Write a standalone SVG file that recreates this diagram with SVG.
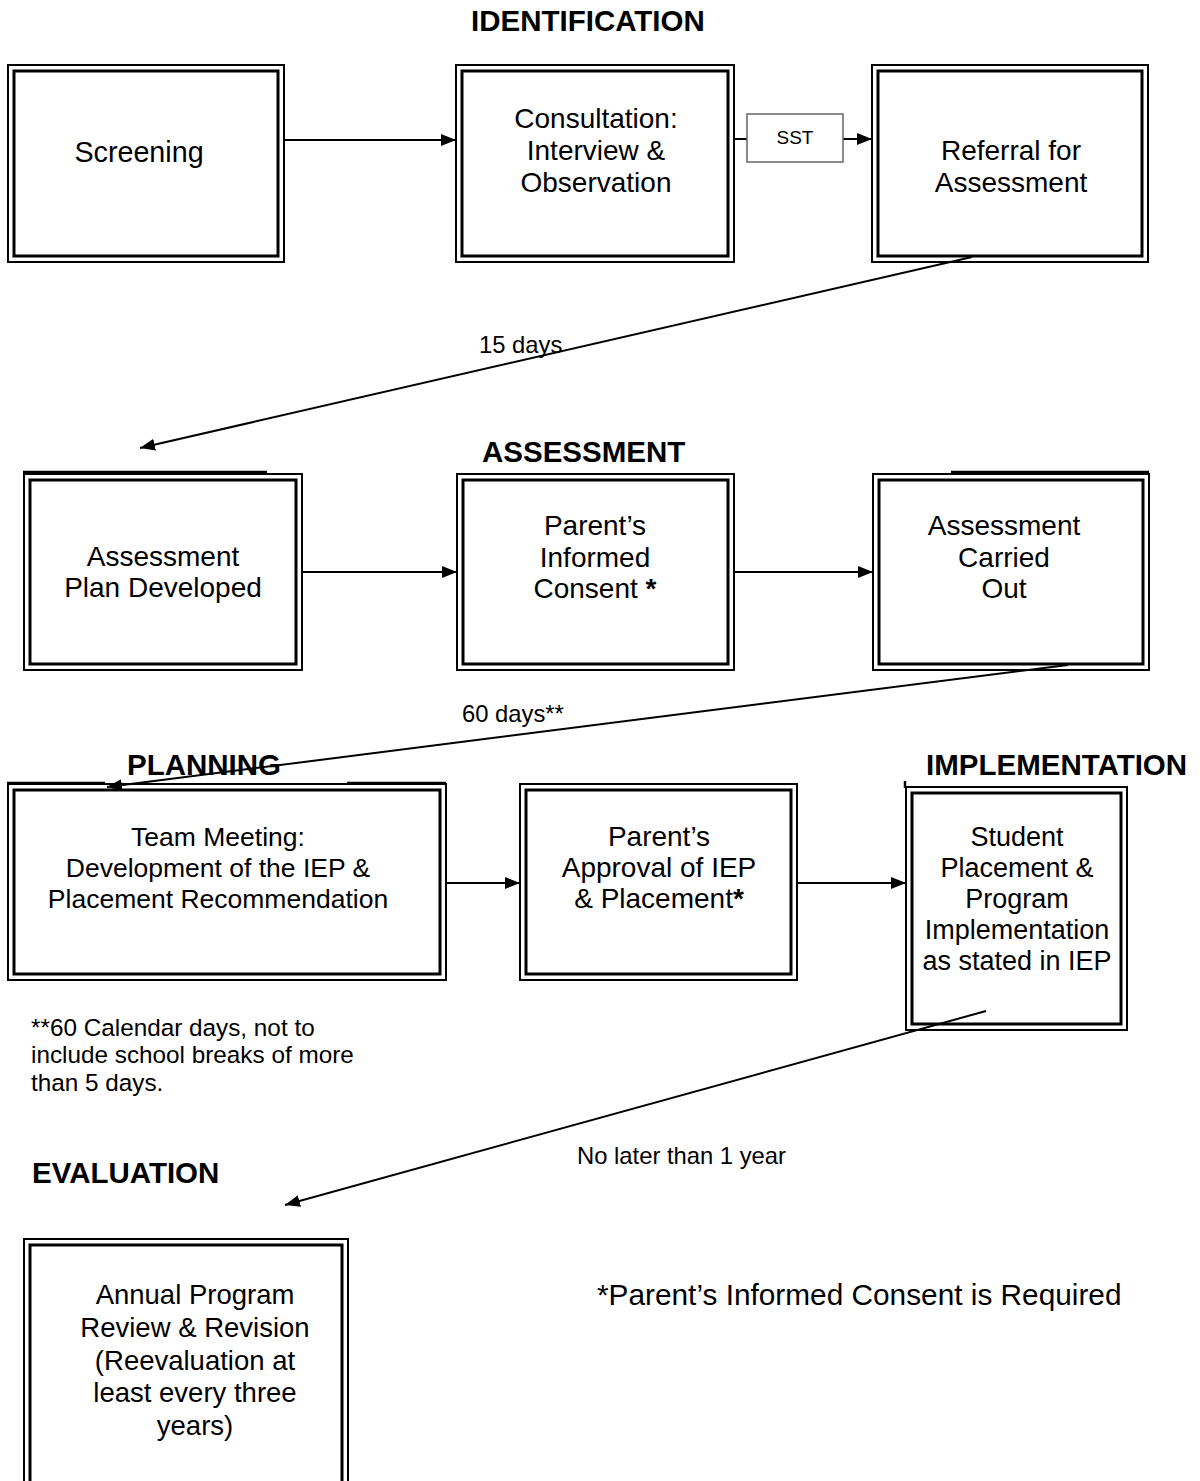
<svg xmlns="http://www.w3.org/2000/svg" width="1200" height="1481" viewBox="0 0 1200 1481">
<defs>
<marker id="ah" markerUnits="userSpaceOnUse" markerWidth="16" markerHeight="12" refX="15" refY="6" orient="auto">
<path d="M0,0 L15,6 L0,12 z" fill="#000"/>
</marker>
<style>
.o{fill:none;stroke:#000;stroke-width:2}
.i{fill:none;stroke:#000;stroke-width:3}
text{font-family:"Liberation Sans",Arial,Helvetica,sans-serif;fill:#000}
.t{font-size:28px;text-anchor:middle}
.t2{font-size:27.5px;text-anchor:middle}
.tm{font-size:26.5px;text-anchor:middle}
.sp{font-size:27px;text-anchor:middle}
.h{font-size:29.5px;font-weight:bold}
.s{font-size:23.8px}
.c{stroke:#000;stroke-width:2;fill:none}
.x{stroke:#000;stroke-width:2.5}
</style>
</defs>
<rect width="1200" height="1481" fill="#fff"/>

<g id="headings">
<text class="h" x="471" y="31">IDENTIFICATION</text>
<text class="h" x="482" y="462">ASSESSMENT</text>
<text class="h" x="127" y="775">PLANNING</text>
<text class="h" x="926" y="775">IMPLEMENTATION</text>
<text class="h" x="32" y="1183">EVALUATION</text>
</g>

<g id="connectors">
<line class="c" x1="284" y1="140" x2="456" y2="140" marker-end="url(#ah)"/>
<line class="c" x1="734" y1="139" x2="747" y2="139"/>
<line class="c" x1="843" y1="139" x2="872" y2="139" marker-end="url(#ah)"/>
<line class="c" x1="972" y1="257" x2="140" y2="448" marker-end="url(#ah)"/>
<line class="c" x1="302" y1="572" x2="457" y2="572" marker-end="url(#ah)"/>
<line class="c" x1="734" y1="572" x2="873" y2="572" marker-end="url(#ah)"/>
<line class="c" x1="1068" y1="665" x2="107" y2="787" marker-end="url(#ah)"/>
<line class="c" x1="446" y1="883" x2="520" y2="883" marker-end="url(#ah)"/>
<line class="c" x1="797" y1="883" x2="906" y2="883" marker-end="url(#ah)"/>
<line class="c" x1="986" y1="1011" x2="285" y2="1205" marker-end="url(#ah)"/>
<text class="s" x="479" y="353">15 days</text>
<text class="s" x="462" y="722">60 days**</text>
<text class="s" x="577" y="1164">No later than 1 year</text>
</g>

<g id="sst">
<rect x="747" y="114" width="96" height="48" fill="#fff" stroke="#666" stroke-width="1.5"/>
<text x="795" y="144" font-size="19" text-anchor="middle">SST</text>
</g>

<g id="screening">
<rect class="o" x="8" y="65" width="276" height="197"/>
<rect class="i" x="14" y="71" width="264" height="185"/>
<text class="t" x="139" y="162" style="font-size:28.7px">Screening</text>
</g>

<g id="consultation">
<rect class="o" x="456" y="65" width="278" height="197"/>
<rect class="i" x="462" y="71" width="266" height="185"/>
<text class="t" x="596" y="128">Consultation:</text>
<text class="t" x="596" y="160">Interview &amp;</text>
<text class="t" x="596" y="192">Observation</text>
</g>

<g id="referral">
<rect class="o" x="872" y="65" width="276" height="197"/>
<rect class="i" x="878" y="71" width="264" height="185"/>
<text class="t" x="1011" y="160">Referral for</text>
<text class="t" x="1011" y="192">Assessment</text>
</g>

<g id="assessment-plan">
<line class="x" x1="23" y1="472" x2="267" y2="472"/>
<rect class="o" x="24" y="474" width="278" height="196"/>
<rect class="i" x="30" y="480" width="266" height="184"/>
<text class="t" x="163" y="566">Assessment</text>
<text class="t" x="163" y="597">Plan Developed</text>
</g>

<g id="informed-consent">
<rect class="o" x="457" y="474" width="277" height="196"/>
<rect class="i" x="463" y="480" width="265" height="184"/>
<text class="t" x="595" y="535">Parent’s</text>
<text class="t" x="595" y="567">Informed</text>
<text class="t" x="595" y="598">Consent <tspan font-weight="bold">*</tspan></text>
</g>

<g id="assessment-carried-out">
<line class="x" x1="951" y1="472" x2="1149" y2="472"/>
<rect class="o" x="873" y="474" width="276" height="196"/>
<rect class="i" x="879" y="480" width="264" height="184"/>
<text class="t" x="1004" y="535">Assessment</text>
<text class="t" x="1004" y="567">Carried</text>
<text class="t" x="1004" y="598">Out</text>
</g>

<g id="team-meeting">
<line class="x" x1="7" y1="783" x2="105" y2="783"/>
<line class="x" x1="347" y1="783" x2="446" y2="783"/>
<rect class="o" x="8" y="784" width="438" height="196"/>
<rect class="i" x="14" y="790" width="426" height="184"/>
<text class="tm" x="218" y="846">Team Meeting:</text>
<text class="tm" x="218" y="877">Development of the IEP &amp;</text>
<text class="tm" x="218" y="908">Placement Recommendation</text>
</g>

<g id="approval">
<rect class="o" x="520" y="784" width="277" height="196"/>
<rect class="i" x="526" y="790" width="265" height="184"/>
<text class="t" x="659" y="846">Parent’s</text>
<text class="t" x="659" y="877">Approval of IEP</text>
<text class="t" x="659" y="908">&amp; Placement<tspan font-weight="bold">*</tspan></text>
</g>

<g id="placement">
<line class="x" x1="905" y1="781" x2="905" y2="788"/>
<rect class="o" x="906" y="787" width="221" height="243"/>
<rect class="i" x="912" y="793" width="209" height="231"/>
<text class="sp" x="1017" y="846">Student</text>
<text class="sp" x="1017" y="877">Placement &amp;</text>
<text class="sp" x="1017" y="908">Program</text>
<text class="sp" x="1017" y="939">Implementation</text>
<text class="sp" x="1017" y="970">as stated in IEP</text>
</g>

<g id="annual-review">
<rect class="o" x="24" y="1239" width="324" height="270"/>
<rect class="i" x="30" y="1245" width="312" height="258"/>
<text class="t2" x="195" y="1304">Annual Program</text>
<text class="t2" x="195" y="1337">Review &amp; Revision</text>
<text class="t2" x="195" y="1370">(Reevaluation at</text>
<text class="t2" x="195" y="1402">least every three</text>
<text class="t2" x="195" y="1435">years)</text>
</g>

<g id="notes">
<text font-size="24.3" x="31" y="1036">**60 Calendar days, not to</text>
<text font-size="24.3" x="31" y="1063">include school breaks of more</text>
<text font-size="24.3" x="31" y="1091">than 5 days.</text>
<text font-size="29.8" x="597" y="1305">*Parent’s Informed Consent is Required</text>
</g>
</svg>
